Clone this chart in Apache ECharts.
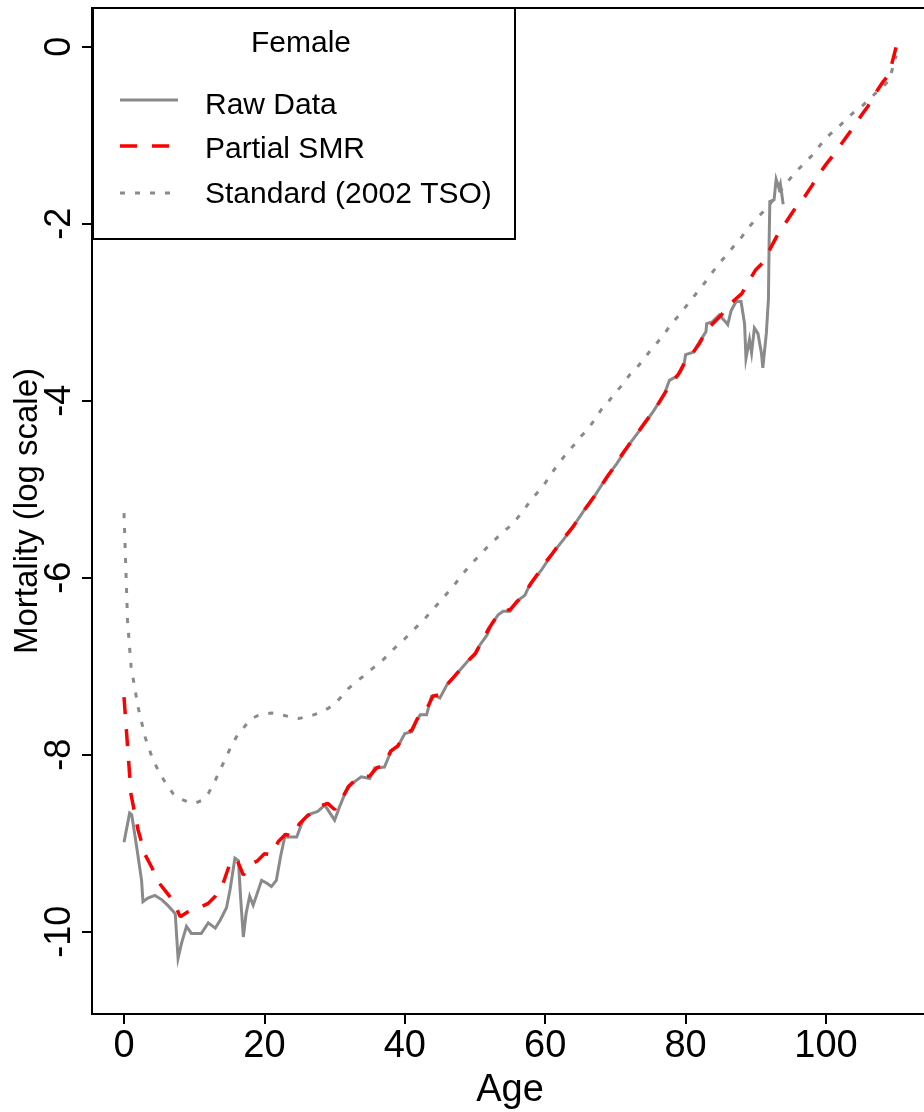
<!DOCTYPE html>
<html>
<head>
<meta charset="utf-8">
<script src="https://cdn.jsdelivr.net/npm/echarts@6/dist/echarts.min.js"></script>
<style>
html,body{margin:0;padding:0;background:#fff;overflow:hidden;}
#c{width:924px;height:1112px;}
</style>
</head>
<body>
<div id="c"></div>
<script>
// ---- data ----
const xTicks = [0, 20, 40, 60, 80, 100];
const yTicks = [-10, -8, -6, -4, -2, 0];

const rawAge = [0,0.8,1.1,1.8,2.5,2.7,3.4,4.4,5.4,6.2,7.0,7.3,7.7,8.2,8.9,9.6,11.0,12.0,13.0,13.7,14.6,15.1,15.8,16.3,16.6,17.0,17.4,17.9,18.4,19.6,20.3,21.0,21.7,22.3,22.9,24.6,25.5,26.2,27.6,28.6,30.0,30.7,31.9,33.8,35.0,35.7,37.1,38.1,39.0,40.0,41.0,41.7,42.2,43.1,43.8,44.3,45.0,46.0,47.9,49.1,50.0,50.7,51.7,52.4,53.3,54.0,55.0,55.9,57.1,57.8,59.5,60.9,62.6,64.0,65.7,67.1,68.8,70.2,72.1,73.7,75.4,77.0,77.7,78.6,79.3,79.8,80.0,81.2,81.7,82.9,83.0,83.8,84.8,85.7,86.0,86.5,87.2,87.9,88.4,88.6,89.1,89.4,89.8,90.3,90.8,91.0,91.5,91.8,91.9,92.0,92.6,92.9,93.3,93.5,93.9];
const rawVal = [-8.99,-8.66,-8.68,-9.04,-9.42,-9.66,-9.62,-9.59,-9.64,-9.70,-9.77,-9.80,-10.30,-10.13,-9.94,-10.02,-10.02,-9.90,-9.96,-9.87,-9.73,-9.53,-9.17,-9.20,-9.60,-10.06,-9.79,-9.60,-9.70,-9.42,-9.45,-9.49,-9.42,-9.15,-8.93,-8.93,-8.74,-8.68,-8.64,-8.57,-8.74,-8.59,-8.36,-8.25,-8.27,-8.15,-8.14,-7.95,-7.91,-7.76,-7.74,-7.61,-7.55,-7.55,-7.34,-7.33,-7.36,-7.21,-7.04,-6.93,-6.87,-6.76,-6.65,-6.52,-6.42,-6.38,-6.38,-6.27,-6.20,-6.08,-5.91,-5.74,-5.57,-5.42,-5.22,-5.07,-4.86,-4.71,-4.48,-4.31,-4.12,-3.92,-3.77,-3.73,-3.67,-3.58,-3.48,-3.45,-3.37,-3.22,-3.13,-3.11,-3.03,-3.11,-3.14,-2.98,-2.88,-2.88,-3.13,-3.52,-3.31,-3.46,-3.18,-3.24,-3.46,-3.63,-3.24,-2.85,-2.20,-1.75,-1.73,-1.50,-1.60,-1.55,-1.78];

const smrAge = [0,1,2,3,4,5,6,7,8,9,10,11,12,13,14,15,16,17,18,19,20,21,22,23,24,25,26,27,28,29,30,31,32,33,34,35,36,37,38,39,40,41,42,43,44,45,46,47,48,49,50,51,52,53,54,55,56,57,58,59,60,61,62,63,64,65,66,67,68,69,70,71,72,73,74,75,76,77,78,79,80,81,82,83,84,85,86,87,88,89,90,91,92,93,94,95,96,97,98,99,100,101,102,103,104,105,106,107,108,109,110];
const smrVal = [-7.35,-8.45,-8.85,-9.13,-9.28,-9.45,-9.55,-9.65,-9.83,-9.78,-9.75,-9.72,-9.68,-9.60,-9.48,-9.25,-9.17,-9.36,-9.24,-9.20,-9.12,-9.13,-8.98,-8.90,-8.92,-8.78,-8.70,-8.64,-8.58,-8.55,-8.62,-8.50,-8.36,-8.28,-8.25,-8.24,-8.15,-8.12,-7.96,-7.90,-7.77,-7.72,-7.56,-7.50,-7.34,-7.32,-7.21,-7.12,-7.03,-6.94,-6.86,-6.72,-6.57,-6.45,-6.38,-6.36,-6.27,-6.19,-6.06,-5.95,-5.83,-5.73,-5.62,-5.52,-5.42,-5.30,-5.19,-5.08,-4.96,-4.84,-4.73,-4.60,-4.49,-4.38,-4.27,-4.16,-4.05,-3.92,-3.80,-3.70,-3.55,-3.46,-3.35,-3.20,-3.12,-3.04,-2.94,-2.86,-2.79,-2.65,-2.52,-2.44,-2.29,-2.14,-2.02,-1.90,-1.78,-1.69,-1.57,-1.44,-1.33,-1.23,-1.12,-1.01,-0.90,-0.78,-0.67,-0.53,-0.41,-0.31,0.00];

const stdAge = [0,0.5,1,2,3,4,5,6,7,8,9,10,11,12,13,14,15,16,17,18,19,20,21,22,23,24,25,26,27,28,29,30,31,32,33,34,35,36,37,38,39,40,41,42,43,44,45,46,47,48,49,50,51,52,53,54,55,56,57,58,59,60,61,62,63,64,65,66,67,68,69,70,71,72,73,74,75,76,77,78,79,80,81,82,83,84,85,86,87,88,89,90,91,92,93,94,95,96,97,98,99,100,101,102,103,104,105,106,107,108,109,110];
const stdVal = [-5.27,-6.48,-7.00,-7.46,-7.80,-8.03,-8.20,-8.33,-8.44,-8.50,-8.53,-8.55,-8.52,-8.44,-8.29,-8.12,-7.95,-7.80,-7.70,-7.60,-7.56,-7.54,-7.53,-7.54,-7.56,-7.58,-7.59,-7.57,-7.55,-7.52,-7.48,-7.43,-7.34,-7.25,-7.18,-7.12,-7.05,-6.99,-6.92,-6.84,-6.76,-6.69,-6.61,-6.53,-6.45,-6.36,-6.27,-6.18,-6.09,-5.98,-5.89,-5.80,-5.72,-5.63,-5.56,-5.48,-5.42,-5.33,-5.23,-5.12,-5.03,-4.93,-4.81,-4.70,-4.60,-4.51,-4.41,-4.33,-4.22,-4.10,-4.01,-3.91,-3.82,-3.71,-3.63,-3.54,-3.43,-3.34,-3.24,-3.13,-3.04,-2.94,-2.84,-2.74,-2.64,-2.53,-2.43,-2.34,-2.24,-2.15,-2.04,-1.95,-1.87,-1.78,-1.68,-1.58,-1.48,-1.39,-1.31,-1.23,-1.13,-1.03,-0.96,-0.89,-0.81,-0.74,-0.68,-0.61,-0.53,-0.46,-0.38,-0.10];

const seriesNames = ['Raw Data', 'Partial SMR', 'Standard (2002 TSO)'];
const legendTitle = 'Female';
const xTitle = 'Age';
const yTitle = 'Mortality (log scale)';

// ---- build ----
const pairs = (a, v) => a.map((x, i) => [x, v[i]]);
const GREY = '#8a8a8a', RED = '#ff0000';
const SANS = '"Liberation Sans", Arial, sans-serif';
const NARROW = '"Liberation Sans Narrow", "Arial Narrow", "Liberation Sans", sans-serif';

const chart = echarts.init(document.getElementById('c'), null, {renderer: 'canvas'});
chart.setOption({
  animation: false,
  backgroundColor: '#fff',
  grid: {left: 92, top: 8, right: -4, bottom: 98, show: true, borderColor: '#000', borderWidth: 2, backgroundColor: 'transparent', containLabel: false, outerBoundsMode: 'none'},
  xAxis: {
    type: 'value', min: -4.56, max: 114.53,
    name: xTitle, nameLocation: 'middle', nameGap: 58, nameMoveOverlap: false,
    nameTextStyle: {fontFamily: NARROW, fontSize: 38, color: '#000'},
    axisLine: {show: true, onZero: false, lineStyle: {color: '#000', width: 2}},
    axisTick: {show: true, inside: false, length: 10, customValues: xTicks, lineStyle: {color: '#000', width: 2}},
    axisLabel: {show: true, margin: 14, customValues: xTicks, fontFamily: NARROW, fontSize: 38, color: '#000', showMinLabel: true, showMaxLabel: true},
    splitLine: {show: false}
  },
  yAxis: {
    type: 'value', min: -10.93, max: 0.437,
    name: yTitle, nameLocation: 'middle', nameGap: 48, nameRotate: 90, nameMoveOverlap: false,
    nameTextStyle: {fontFamily: SANS, fontSize: 33, color: '#000'},
    axisLine: {show: true, onZero: false, lineStyle: {color: '#000', width: 2}},
    axisTick: {show: true, inside: false, length: 10, customValues: yTicks, lineStyle: {color: '#000', width: 2}},
    axisLabel: {show: true, rotate: 90, margin: 14, customValues: yTicks, fontFamily: SANS, fontSize: 36, color: '#000', showMinLabel: true, showMaxLabel: true},
    splitLine: {show: false}
  },
  series: [
    {name: seriesNames[2], type: 'line', data: pairs(stdAge, stdVal), showSymbol: false, symbol: 'none', clip: true,
     lineStyle: {color: GREY, width: 3, type: [5, 10], cap: 'butt'}},
    {name: seriesNames[0], type: 'line', data: pairs(rawAge, rawVal), showSymbol: false, symbol: 'none', clip: true,
     lineStyle: {color: GREY, width: 3, type: 'solid', cap: 'butt', join: 'miter'}},
    {name: seriesNames[1], type: 'line', data: pairs(smrAge, smrVal), showSymbol: false, symbol: 'none', clip: true,
     lineStyle: {color: RED, width: 3.5, type: [17, 15], cap: 'butt'}}
  ],
  graphic: [
    {type: 'rect', z: 100, shape: {x: 93, y: 8, width: 422, height: 231}, style: {fill: '#fff', stroke: '#000', lineWidth: 2}},
    {type: 'text', z: 101, x: 301, y: 44, style: {text: legendTitle, font: '30px ' + SANS, fill: '#000', textAlign: 'center', textVerticalAlign: 'middle'}},
    {type: 'line', z: 101, shape: {x1: 120, y1: 100, x2: 178, y2: 100}, style: {stroke: GREY, lineWidth: 3}},
    {type: 'line', z: 101, shape: {x1: 120, y1: 146, x2: 178, y2: 146}, style: {stroke: RED, lineWidth: 3.5, lineDash: [17, 15]}},
    {type: 'line', z: 101, shape: {x1: 120, y1: 193, x2: 178, y2: 193}, style: {stroke: GREY, lineWidth: 3, lineDash: [5, 10]}},
    {type: 'text', z: 101, x: 205, y: 106, style: {text: seriesNames[0], font: '30px ' + SANS, fill: '#000', textAlign: 'left', textVerticalAlign: 'middle'}},
    {type: 'text', z: 101, x: 205, y: 150, style: {text: seriesNames[1], font: '30px ' + SANS, fill: '#000', textAlign: 'left', textVerticalAlign: 'middle'}},
    {type: 'text', z: 101, x: 205, y: 195, style: {text: seriesNames[2], font: '30px ' + SANS, fill: '#000', textAlign: 'left', textVerticalAlign: 'middle'}}
  ]
});
</script>
</body>
</html>
